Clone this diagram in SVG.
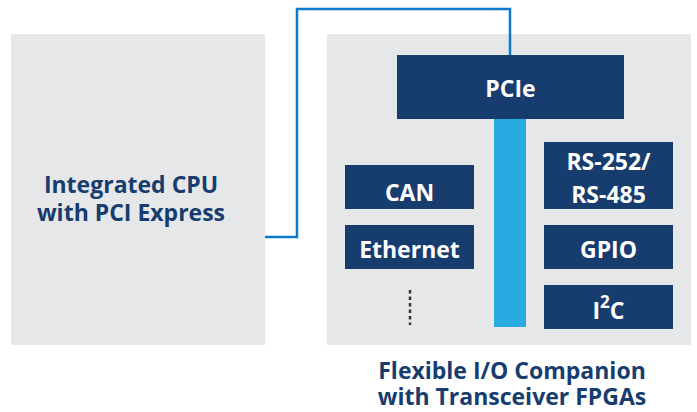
<svg xmlns="http://www.w3.org/2000/svg" width="697" height="412" viewBox="0 0 697 412">
<style>
.panel{fill:#e6e7e9}
.box{fill:#173c6e}
.lbl{font-family:"Open Sans","Noto Sans",sans-serif;font-weight:bold;font-size:23px;fill:#ffffff;text-anchor:middle}
.dark{font-family:"Open Sans","Noto Sans",sans-serif;font-weight:bold;font-size:23px;fill:#173c6e;text-anchor:middle}
.wire{fill:none;stroke:#0a7bc9;stroke-width:2.5}
</style>
<rect width="697" height="412" fill="#ffffff"/>
<g id="cpu">
<rect class="panel" x="11" y="34" width="254" height="311"/>
<text class="dark" x="131" y="193">Integrated CPU</text>
<text class="dark" x="131" y="221">with PCI Express</text>
</g>
<g id="fpga">
<rect class="panel" x="327" y="34" width="364" height="311"/>
<text class="dark" x="512" y="379">Flexible I/O Companion</text>
<text class="dark" x="512" y="405">with Transceiver FPGAs</text>
</g>
<g id="bus">
<rect x="494" y="118" width="32" height="209" fill="#29abe2"/>
</g>
<g id="pcie">
<rect class="box" x="397" y="55" width="227" height="64"/>
<text class="lbl" x="510.5" y="97">PCIe</text>
</g>
<g id="can">
<rect class="box" x="345" y="165" width="129" height="44"/>
<text class="lbl" x="409.5" y="201">CAN</text>
</g>
<g id="ethernet">
<rect class="box" x="345" y="225" width="129" height="44"/>
<text class="lbl" x="409.5" y="258">Ethernet</text>
</g>
<g id="more">
<line x1="410" y1="290" x2="410" y2="325" stroke="#333333" stroke-width="2.5" stroke-dasharray="3.5 3"/>
</g>
<g id="rs">
<rect class="box" x="544" y="142" width="129" height="67"/>
<text class="lbl" x="608.5" y="170">RS-252/</text>
<text class="lbl" x="608.5" y="203">RS-485</text>
</g>
<g id="gpio">
<rect class="box" x="544" y="225" width="129" height="44"/>
<text class="lbl" x="608.5" y="258">GPIO</text>
</g>
<g id="i2c">
<rect class="box" x="544" y="285" width="129" height="44"/>
<text class="lbl" x="608.5" y="319">I<tspan font-size="17" dy="-11">2</tspan><tspan dy="11">C</tspan></text>
</g>
<g id="connectors">
<path class="wire" d="M265 237 H297 V9 H510 V55"/>
</g>
</svg>
